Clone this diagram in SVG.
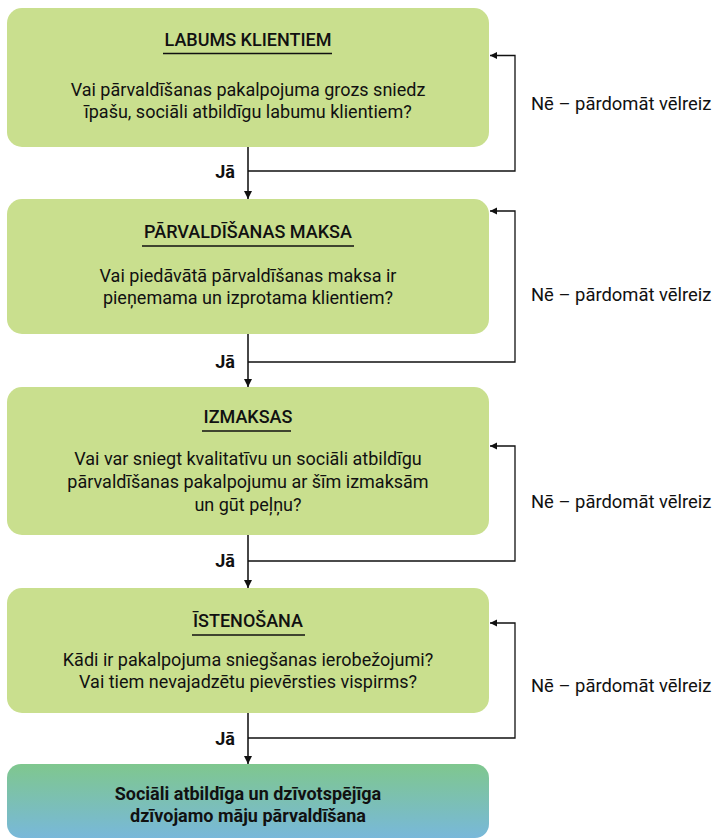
<svg xmlns="http://www.w3.org/2000/svg" width="713" height="838" viewBox="0 0 713 838">
<defs>
<linearGradient id="g5" x1="0" y1="0" x2="0" y2="1">
<stop offset="0" stop-color="#7fc78e"/>
<stop offset="1" stop-color="#78b8da"/>
</linearGradient>
<marker id="ah" viewBox="0 0 10 10" refX="10" refY="5" markerWidth="7" markerHeight="11" markerUnits="userSpaceOnUse" orient="auto">
<path d="M0,0 L10,5 L0,10 z" fill="#111"/>
</marker>
<marker id="av" viewBox="0 0 10 10" refX="10" refY="5" markerWidth="8" markerHeight="12" markerUnits="userSpaceOnUse" orient="auto">
<path d="M0,0 L10,5 L0,10 z" fill="#111"/>
</marker>
</defs>
<style>
.box{fill:#c9df8e}
.t{font-family:Roboto,"Liberation Sans",sans-serif;fill:#111;text-anchor:middle}
.h{font-size:18px;font-weight:500}
.b{font-size:18px}
.f{font-size:18px;font-weight:700}
.u{stroke:#111;stroke-width:1.3}
.ln{fill:none;stroke:#111;stroke-width:1.3}
.vl{fill:none;stroke:#333;stroke-width:1.8}
.ja{font-family:Roboto,"Liberation Sans",sans-serif;font-size:18px;font-weight:700;fill:#111;text-anchor:middle}
.ne{font-family:Roboto,"Liberation Sans",sans-serif;font-size:18.4px;fill:#111}
</style>
<rect width="713" height="838" fill="#fff"/>
<g id="n1">
<rect class="box" x="7" y="8" width="482" height="139" rx="15"/>
<text class="t h" x="248" y="46">LABUMS KLIENTIEM</text>
<line class="u" x1="163" y1="53.5" x2="332" y2="53.5"/>
<text class="t b" x="248" y="96">Vai pārvaldīšanas pakalpojuma grozs sniedz</text>
<text class="t b" x="248" y="118">īpašu, sociāli atbildīgu labumu klientiem?</text>
</g>
<g id="n2">
<rect class="box" x="7" y="199" width="482" height="135" rx="15"/>
<text class="t h" x="248" y="238">PĀRVALDĪŠANAS MAKSA</text>
<line class="u" x1="142" y1="246" x2="354" y2="246"/>
<text class="t b" x="248" y="282">Vai piedāvātā pārvaldīšanas maksa ir</text>
<text class="t b" x="248" y="304">pieņemama un izprotama klientiem?</text>
</g>
<g id="n3">
<rect class="box" x="7" y="387" width="482" height="148" rx="15"/>
<text class="t h" x="248" y="423">IZMAKSAS</text>
<line class="u" x1="202" y1="431" x2="291" y2="431"/>
<text class="t b" x="248" y="465">Vai var sniegt kvalitatīvu un sociāli atbildīgu</text>
<text class="t b" x="248" y="488">pārvaldīšanas pakalpojumu ar šīm izmaksām</text>
<text class="t b" x="248" y="511">un gūt peļņu?</text>
</g>
<g id="n4">
<rect class="box" x="7" y="588" width="482" height="125" rx="15"/>
<text class="t h" x="248" y="627">ĪSTENOŠANA</text>
<line class="u" x1="192" y1="635" x2="305" y2="635"/>
<text class="t b" x="248" y="666">Kādi ir pakalpojuma sniegšanas ierobežojumi?</text>
<text class="t b" x="248" y="688">Vai tiem nevajadzētu pievērsties vispirms?</text>
</g>
<g id="n5">
<rect x="7" y="764" width="482" height="74" rx="14" fill="url(#g5)"/>
<text class="t f" x="248" y="800">Sociāli atbildīga un dzīvotspējīga</text>
<text class="t f" x="248" y="822">dzīvojamo māju pārvaldīšana</text>
</g>
<g id="connectors">
<line class="vl" x1="248" y1="147" x2="248" y2="199" marker-end="url(#av)"/>
<polyline class="ln" points="248,171 515,171 515,55.5 490,55.5" marker-end="url(#ah)"/>
<line class="vl" x1="248" y1="334" x2="248" y2="387" marker-end="url(#av)"/>
<polyline class="ln" points="248,362 515,362 515,211 490,211" marker-end="url(#ah)"/>
<line class="vl" x1="248" y1="535" x2="248" y2="588" marker-end="url(#av)"/>
<polyline class="ln" points="248,561 515,561 515,446 490,446" marker-end="url(#ah)"/>
<line class="vl" x1="248" y1="713" x2="248" y2="764" marker-end="url(#av)"/>
<polyline class="ln" points="248,738 515,738 515,623 490,623" marker-end="url(#ah)"/>
<text class="ja" x="225" y="178">Jā</text>
<text class="ja" x="225" y="368">Jā</text>
<text class="ja" x="225" y="567">Jā</text>
<text class="ja" x="225" y="745">Jā</text>
<text class="ne" x="531" y="110">Nē – pārdomāt vēlreiz</text>
<text class="ne" x="531" y="301">Nē – pārdomāt vēlreiz</text>
<text class="ne" x="531" y="508">Nē – pārdomāt vēlreiz</text>
<text class="ne" x="531" y="692">Nē – pārdomāt vēlreiz</text>
</g>
</svg>
